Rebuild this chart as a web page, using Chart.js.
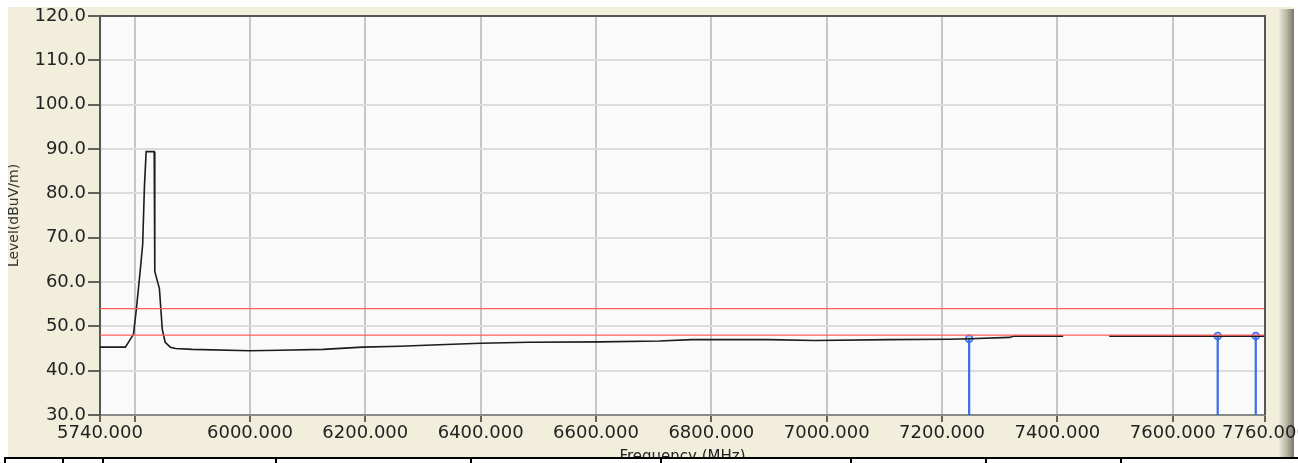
<!DOCTYPE html>
<html>
<head>
<meta charset="utf-8">
<script src="https://cdn.jsdelivr.net/npm/chart.js@4.4.0/dist/chart.umd.min.js"></script>
<style>
  html, body { margin: 0; padding: 0; background: #fff; }
  #wrap { position: relative; width: 1298px; height: 463px; overflow: hidden; }
  #wrap canvas { position: absolute; left: 0; top: 0; }
  .edge-top { position: absolute; left: 0; top: 0; width: 1298px; height: 7px; background: #fff; }
  .edge-left { position: absolute; left: 0; top: 0; width: 8px; height: 463px; background: #fff; }
  .strip { position: absolute; left: 4px; top: 457px; width: 1294px; height: 6px; border-top: 2px solid #000; background: #fff; }
  .strip div { position: absolute; top: 0; bottom: 0; border-left: 2px solid #000; }
</style>
</head>
<body>
<div id="wrap">
  <canvas id="chart" width="1298" height="463"></canvas>
  <div class="edge-top"></div>
  <div class="edge-left"></div>
  <div class="strip" id="strip"></div>
</div>
<script>
// spectrum trace, MHz / dBuV/m (null = gap in the trace)
const freq  = [5740, 5784, 5798, 5803, 5810, 5814, 5817, 5820, 5834, 5835, 5843, 5848, 5853, 5862, 5871,
               5900, 6000, 6052, 6127, 6195, 6260, 6316, 6400, 6485, 6607, 6710, 6766, 6900, 6979, 7109,
               7213, 7248, 7317, 7325, 7410, 7450, 7490, 7600, 7760];
const level = [45.3, 45.3, 48.2, 53.8, 62.9, 68.5, 81.4, 89.4, 89.4, 62.4, 58.5, 49.3, 46.4, 45.3, 45.0,
               44.8, 44.5, 44.6, 44.8, 45.3, 45.5, 45.8, 46.2, 46.4, 46.5, 46.7, 47.0, 47.0, 46.8, 47.0,
               47.1, 47.2, 47.5, 47.8, 47.8, null, 47.8, 47.8, 47.8];

// markers
const markerFreq  = [7247, 7678, 7744];
const markerLevel = [47.2, 47.8, 47.8];

// limit lines
const limitUpper = 54;
const limitLower = 48;

// axes
const xTicks = [5740, 5800, 6000, 6200, 6400, 6600, 6800, 7000, 7200, 7400, 7600, 7760];
const xTickLabels = ['5740.000', '', '6000.000', '6200.000', '6400.000', '6600.000', '6800.000',
                     '7000.000', '7200.000', '7400.000', '7600.000', '7760.000'];
const yTicks = [30, 40, 50, 60, 70, 80, 90, 100, 110, 120];
const yTickLabels = ['30.0', '40.0', '50.0', '60.0', '70.0', '80.0', '90.0', '100.0', '110.0', '120.0'];

const xMin = xTicks[0], xMax = xTicks[xTicks.length - 1];
const yMin = yTicks[0], yMax = yTicks[yTicks.length - 1];

const backdrop = {
    id: 'backdrop',
    beforeDraw(chart) {
        const { ctx, chartArea: a } = chart;
        ctx.save();
        ctx.fillStyle = '#f1eedc';
        ctx.fillRect(0, 0, chart.width, chart.height);
        // shaded right edge of the panel
        const g = ctx.createLinearGradient(1279, 0, 1294, 0);
        g.addColorStop(0, '#ebe7d4');
        g.addColorStop(0.55, '#b4b2a0');
        g.addColorStop(1, '#77766a');
        ctx.fillStyle = g;
        ctx.fillRect(1279, 9, 15, chart.height);
        ctx.fillStyle = '#fff';
        ctx.fillRect(1294, 0, 4, chart.height);
        ctx.fillStyle = '#fafafa';
        ctx.fillRect(a.left, a.top, a.right - a.left, a.bottom - a.top);
        ctx.restore();
    },
    afterDraw(chart) {
        const { ctx, chartArea: a } = chart;
        ctx.save();
        ctx.strokeStyle = '#555';
        ctx.lineWidth = 2;
        ctx.beginPath();
        ctx.moveTo(a.left, a.top);
        ctx.lineTo(a.right, a.top);
        ctx.lineTo(a.right, a.bottom);
        ctx.stroke();
        ctx.restore();
    }
};

const stems = [];
markerFreq.forEach((f, i) => {
    stems.push({ x: f, y: yMin }, { x: f, y: markerLevel[i] }, { x: f, y: null });
});

const font = { family: 'DejaVu Sans', size: 18 };

new Chart(document.getElementById('chart').getContext('2d'), {
    type: 'line',
    data: {
        datasets: [
            {
                data: [{ x: xMin, y: limitUpper }, { x: xMax, y: limitUpper }],
                borderColor: '#ff5c5c', borderWidth: 1.2
            },
            {
                data: [{ x: xMin, y: limitLower }, { x: xMax, y: limitLower }],
                borderColor: '#ff5c5c', borderWidth: 1.2
            },
            {
                data: freq.map((f, i) => ({ x: f, y: level[i] })),
                borderColor: '#1c1c1c', borderWidth: 1.6
            },
            {
                data: stems,
                borderColor: '#3a6ee8', borderWidth: 2.2
            },
            {
                data: markerFreq.map((f, i) => ({ x: f, y: markerLevel[i] })),
                showLine: false,
                pointRadius: 3.5,
                pointBorderWidth: 1.5,
                pointBorderColor: '#3a6ee8',
                pointBackgroundColor: '#b8c9f5'
            }
        ]
    },
    options: {
        responsive: false,
        animation: false,
        spanGaps: false,
        layout: { padding: { top: 16, right: 33, left: 0, bottom: 0 } },
        elements: { point: { radius: 0 }, line: { tension: 0 } },
        plugins: { legend: { display: false }, tooltip: { enabled: false } },
        scales: {
            x: {
                type: 'linear',
                min: xMin,
                max: xMax,
                afterBuildTicks: s => { s.ticks = xTicks.map(v => ({ value: v })); },
                afterFit: s => { s.height = 48; s.paddingLeft = 0; s.paddingRight = 0; },
                ticks: {
                    autoSkip: false,
                    maxRotation: 0,
                    padding: 1,
                    color: '#222',
                    font: font,
                    callback: v => xTickLabels[xTicks.indexOf(v)]
                },
                grid: {
                    color: c => (c.tick && (c.tick.value === xMin || c.tick.value === xMax)) ? 'rgba(0,0,0,0)' : '#c6c6c6',
                    lineWidth: 2,
                    tickColor: '#333',
                    tickWidth: 1.5,
                    tickLength: 7
                },
                border: { color: '#8a8a8a', width: 2 },
                title: {
                    display: true,
                    text: 'Frequency (MHz)',
                    color: '#222',
                    font: { family: 'DejaVu Sans', size: 15 },
                    padding: { top: 0, bottom: -3 }
                }
            },
            y: {
                min: yMin,
                max: yMax,
                afterBuildTicks: s => { s.ticks = yTicks.map(v => ({ value: v })); },
                afterFit: s => { s.width = 100; s.paddingTop = 0; s.paddingBottom = 0; },
                ticks: {
                    padding: 2,
                    color: '#222',
                    font: font,
                    callback: v => yTickLabels[yTicks.indexOf(v)]
                },
                grid: {
                    color: c => (c.tick && (c.tick.value === yMin || c.tick.value === yMax)) ? 'rgba(0,0,0,0)' : '#dcdcdc',
                    lineWidth: 2,
                    tickColor: '#333',
                    tickWidth: 1.5,
                    tickLength: 12
                },
                border: { color: '#555', width: 2 },
                title: {
                    display: true,
                    text: 'Level(dBuV/m)',
                    color: '#333',
                    font: { family: 'DejaVu Sans', size: 14 },
                    padding: { top: 6, bottom: 0 }
                }
            }
        }
    },
    plugins: [backdrop]
});

// table header strip below the chart
const stripCols = [0, 58, 98, 271, 466, 656, 846, 981, 1116];
const strip = document.getElementById('strip');
stripCols.forEach(x => {
    const d = document.createElement('div');
    d.style.left = x + 'px';
    strip.appendChild(d);
});
</script>
</body>
</html>
